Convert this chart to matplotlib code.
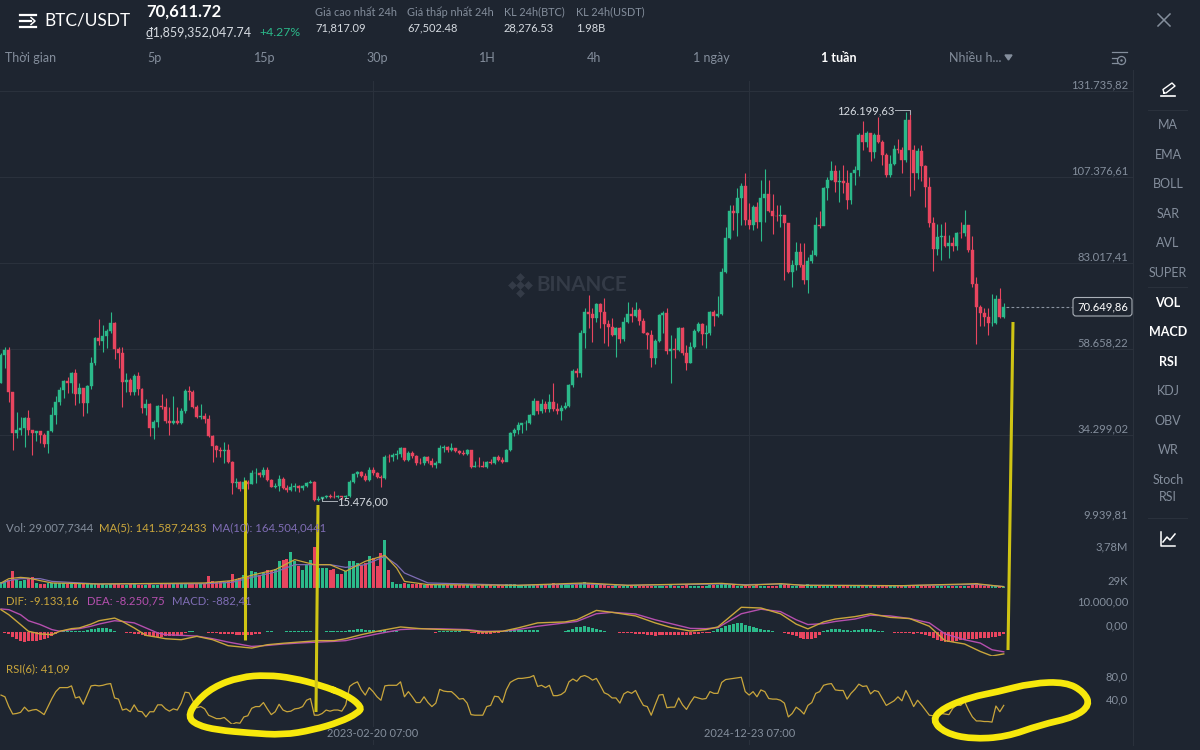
import numpy as np
import matplotlib
matplotlib.use('Agg')
import matplotlib.pyplot as plt
from matplotlib.path import Path
from matplotlib.patches import PathPatch, FancyBboxPatch

plt.rcParams['font.family'] = ['Lato', 'Noto Sans', 'DejaVu Sans']

# gia dong cua / cao / thap theo tuan (nghin USDT), doc tu hinh
first_open = 48.9
closes = [
    56.9,58.4,46.6,34.8,35.7,36.2,39.2,35.7,34.8,35.4,
    34.3,31.7,35.4,40.0,43.7,47.0,49.6,48.9,51.8,45.9,
    47.5,43.3,48.2,54.6,61.7,61.0,62.3,63.8,65.9,58.6,
    57.4,49.4,49.9,46.6,51.0,47.2,41.9,43.1,36.2,38.1,
    42.5,42.1,38.4,37.8,38.4,37.6,41.2,46.8,46.6,42.1,
    39.5,39.7,38.7,34.0,31.3,30.0,29.9,30.0,26.6,20.6,
    21.1,18.9,21.1,20.4,23.4,23.6,23.0,24.4,21.5,19.7,
    19.9,21.9,19.2,18.7,19.7,19.9,19.2,19.9,20.8,21.1,
    15.9,16.1,16.6,17.0,16.8,16.6,17.0,16.6,17.0,21.1,
    23.2,23.9,22.8,21.5,24.4,23.4,22.3,22.0,28.2,28.0,
    28.6,28.9,30.5,27.2,29.3,28.4,26.5,26.4,28.0,27.0,
    25.8,26.5,30.5,31.0,30.0,30.5,29.9,29.1,28.9,30.0,
    25.3,25.5,25.4,25.3,26.6,26.3,28.0,27.2,26.7,30.0,
    34.9,35.7,37.1,37.6,37.8,40.0,44.0,41.2,43.1,41.6,
    43.7,41.6,41.2,41.9,42.5,48.5,52.5,51.9,63.3,69.2,
    68.6,67.3,71.4,69.2,65.7,65.0,62.6,64.5,61.4,66.4,
    68.7,68.0,69.7,66.7,63.3,62.6,56.0,61.0,68.3,68.9,
    58.2,58.6,58.4,64.5,57.4,54.8,59.1,63.8,65.7,62.9,
    63.1,69.2,68.0,68.7,80.5,90.0,97.8,97.3,101.3,104.8,
    95.2,93.8,98.8,94.7,101.3,102.5,97.8,96.3,96.2,96.6,
    94.2,80.5,82.4,86.0,82.4,78.2,83.7,85.3,93.8,93.6,
    104.2,106.5,109.1,106.0,106.1,105.6,100.8,108.4,109.3,119.3,
    117.4,119.9,114.3,119.3,117.4,113.6,107.9,111.0,115.2,115.0,
    112.2,123.5,115.0,108.6,114.8,110.5,104.6,94.2,86.9,90.5,
    90.6,87.8,88.6,87.8,91.6,91.5,93.8,86.7,77.1,70.5,
    68.9,67.6,65.9,66.1,72.7,67.6,70.65]
highs = [
    57.4,59.3,59.3,46.6,40.9,39.5,39.5,41.4,35.7,35.4,
    35.4,34.8,35.5,42.3,45.2,48.0,49.9,50.6,52.2,52.9,
    48.9,47.5,48.5,56.5,62.1,67.1,65.5,64.2,69.0,66.4,
    59.3,59.3,51.8,50.3,51.6,52.2,47.5,44.4,43.4,38.5,
    42.8,45.8,44.7,42.3,45.3,42.3,41.8,47.2,48.2,47.0,
    42.8,43.1,40.6,40.0,34.3,31.5,31.0,32.4,31.7,26.8,
    22.0,21.4,22.5,21.5,24.4,24.9,23.9,25.1,25.3,21.7,
    20.6,23.0,22.5,20.1,20.6,20.6,20.1,20.1,21.1,21.5,
    21.3,17.0,16.8,17.3,17.6,18.5,17.2,17.0,17.2,21.5,
    23.6,24.2,24.2,23.4,25.3,25.3,23.9,23.0,28.6,28.9,
    29.3,30.0,31.0,30.5,29.9,29.9,28.6,27.7,28.4,28.4,
    27.7,26.8,31.5,31.5,31.3,31.9,30.5,30.0,30.0,30.2,
    29.9,26.8,28.2,26.8,26.8,27.5,28.2,28.6,28.2,30.2,
    35.2,36.2,38.1,37.8,38.5,40.2,44.7,44.0,44.4,44.0,
    45.9,48.9,43.4,42.8,43.7,48.7,52.9,53.2,64.0,70.2,
    73.9,70.2,71.8,71.6,73.0,66.9,67.3,65.0,65.0,67.8,
    72.1,70.6,72.1,70.2,67.3,63.6,64.0,61.4,68.7,69.5,
    70.2,62.6,61.9,65.0,64.8,59.8,60.7,64.2,66.4,65.9,
    65.5,69.5,69.7,73.7,81.5,93.3,99.4,99.4,104.2,105.6,
    108.4,100.1,99.4,100.4,106.5,109.5,106.5,102.5,99.4,99.4,
    96.6,94.4,83.9,89.0,88.8,88.6,84.8,86.7,96.1,97.8,
    104.6,107.3,112.0,110.8,109.3,110.8,109.3,108.6,110.5,119.7,
    123.3,120.5,119.9,119.7,124.4,117.7,114.1,113.6,116.4,118.0,
    115.8,125.9,126.2,116.4,115.5,116.4,110.8,107.5,96.1,94.1,
    94.1,94.7,90.9,90.5,91.9,94.7,98.0,93.8,90.7,79.1,
    71.1,70.2,70.2,74.2,73.9,75.8,71.6]
lows = [
    48.9,53.2,43.7,30.0,33.4,34.3,31.0,34.3,28.6,32.6,
    32.0,31.0,29.3,35.2,37.4,42.8,44.7,46.1,46.1,42.8,
    43.3,39.7,40.6,47.2,54.1,59.8,57.9,58.8,63.1,55.7,
    53.2,42.1,46.6,45.6,45.6,45.6,40.4,40.0,34.0,33.1,
    36.7,41.6,37.8,34.3,37.4,37.4,37.4,40.6,44.2,41.9,
    39.0,38.7,37.6,33.6,26.6,28.2,28.0,26.3,26.3,17.6,
    19.5,18.5,18.9,18.9,20.4,20.8,22.5,22.5,21.4,19.5,
    19.2,18.5,18.9,18.2,18.5,18.5,18.2,18.7,19.5,20.6,
    15.7,15.7,15.48,16.4,16.4,16.4,16.4,16.3,16.4,16.8,
    20.6,22.5,22.5,21.4,21.4,23.0,22.0,19.5,21.8,26.7,
    27.0,27.4,28.0,27.0,27.0,27.7,25.8,26.1,25.8,26.5,
    25.1,24.9,26.3,29.6,29.6,29.9,29.6,28.9,28.5,28.6,
    24.9,25.3,25.3,25.1,24.9,26.1,26.1,27.0,26.5,27.0,
    29.9,34.1,34.6,34.8,35.7,37.4,40.0,40.2,40.6,40.9,
    40.9,41.2,40.2,38.5,41.6,42.1,48.0,50.6,50.8,58.8,
    64.5,60.7,66.4,64.5,60.3,59.5,62.2,56.5,60.3,61.0,
    66.1,66.4,67.6,65.4,63.1,58.6,53.5,54.4,60.7,63.3,
    57.2,48.9,56.0,58.2,57.0,52.7,54.6,58.8,63.6,59.8,
    58.8,62.6,65.2,67.6,68.3,80.3,89.7,92.4,90.7,93.8,
    93.8,92.5,92.4,92.8,89.3,94.7,97.5,91.2,95.0,93.3,
    78.2,80.3,76.3,81.0,82.0,77.1,74.4,83.1,85.1,92.8,
    93.8,100.8,106.5,103.2,100.4,102.7,98.2,99.7,105.1,107.6,
    115.0,115.8,112.0,112.6,116.9,110.8,107.5,107.3,110.8,114.1,
    108.6,111.7,102.0,103.7,106.7,106.3,99.0,93.1,80.6,85.3,
    83.9,87.6,84.3,86.5,86.7,90.0,90.7,86.2,76.3,60.1,
    65.2,65.2,62.6,65.2,65.7,67.3,67.3]

# khoi luong (trieu BTC)
volumes = [
    .64,.71,.89,1.86,.89,.79,.89,1.07,1.18,.54,
    .46,.43,.54,.54,.54,.54,.54,.46,.43,.46,
    .43,.43,.43,.43,.40,.46,.40,.36,.40,.40,
    .40,.36,.36,.43,.40,.36,.36,.36,.40,.36,
    .36,.40,.43,.40,.46,.43,.43,.40,.43,.46,
    .43,.40,.43,1.32,.71,.64,.60,.64,.79,1.54,
    .89,1.07,1.43,1.25,1.86,1.71,1.43,1.61,1.89,1.79,
    2.07,2.93,3.04,3.11,3.82,2.86,2.32,1.96,2.57,3.04,
    4.43,2.14,2.14,2.14,1.96,2.07,1.54,1.50,1.79,2.93,
    2.93,2.68,2.43,2.68,3.39,3.21,2.32,3.75,5.18,1.96,
    .64,.43,.46,.54,.46,.43,.40,.40,.36,.32,
    .30,.36,.32,.28,.30,.36,.32,.30,.28,.30,
    .32,.28,.26,.30,.34,.30,.26,.30,.24,.40,
    .46,.38,.30,.34,.30,.32,.30,.30,.34,.30,
    .32,.54,.34,.28,.30,.28,.36,.40,.50,.60,
    .58,.42,.36,.30,.28,.26,.24,.28,.22,.26,
    .24,.22,.26,.24,.22,.26,.24,.22,.24,.26,
    .22,.42,.24,.22,.26,.28,.24,.22,.26,.24,
    .26,.28,.32,.34,.52,.46,.36,.30,.26,.24,
    .26,.24,.22,.28,.24,.26,.24,.22,.26,.50,
    .36,.30,.26,.24,.28,.30,.42,.26,.24,.22,
    .20,.22,.20,.22,.20,.24,.20,.22,.24,.22,
    .20,.22,.20,.24,.28,.24,.22,.26,.24,.22,
    .24,.28,.26,.24,.22,.26,.22,.24,.20,.20,
    .22,.24,.20,.22,.24,.22,.20,.26,.34,.56,
    .32,.26,.22,.20,.18,.20,.14]
vol_ma_idx = [0,2,5,7,10,13,25,52,59,64,70,75,80,84,88,93,98,101,103,109,132,149,160,184,190,199,205,230,249,256]
vol_ma5 = [.54,1.0,1.14,1.07,.79,.54,.43,.54,.79,1.36,1.96,3.04,2.5,2.5,1.79,2.86,3.5,2.14,.71,.36,.29,.54,.29,.5,.29,.46,.29,.25,.46,.14]
vol_ma10 = [.46,.79,1.0,1.0,1.0,.71,.43,.46,.61,1.14,1.71,2.5,2.5,2.5,2.21,2.5,3.39,2.5,1.61,.54,.29,.43,.29,.43,.36,.43,.29,.25,.39,.16]

# MACD (nghin)
macd_idx = [0,2,5,7,10,13,15,18,20,23,25,29,31,34,37,40,42,46,50,54,58,64,68,72,76,81,85,88,92,96,102,107,113,119,123,128,132,
            137,144,147,152,156,162,167,171,176,180,183,189,194,199,203,206,210,213,218,222,227,232,237,241,246,250,253,256]
dif = [9.3,7.2,3.1,.3,-.8,-1.1,.3,1.4,1.7,3.3,4.7,5.8,4.4,1.7,-1.4,-2.2,-2.8,-3.2,-1.8,-3.2,-5.7,-6.7,-5.3,-4.7,-4.2,-3.6,-3.6,-2.8,-1.1,.3,2.1,1.4,1.0,.7,0,.3,1.7,
       3.8,4.2,5.1,9.0,8.2,6.7,3.8,1.9,.4,1.0,2.1,10.3,10.0,7.6,3.3,1.3,4.2,5.4,6.4,7.6,6.1,5.6,2.4,-3.6,-5.0,-8.1,-10.0,-9.13]
dea = [9.6,9.3,7.2,4.7,3.1,1.0,.3,1.0,1.4,2.4,3.3,4.7,4.4,3.8,1.7,-.4,-1.1,-1.4,-1.7,-2.8,-4.2,-6.0,-5.6,-5.0,-4.6,-4.2,-3.9,-3.6,-2.2,-.8,1.0,1.4,1.3,1.0,.3,.3,1.0,
       2.4,3.8,4.4,7.6,8.2,7.5,5.1,3.5,1.5,1.4,1.8,7.6,9.5,8.5,5.1,3.1,3.5,4.4,5.4,7.0,6.7,5.6,3.8,-.8,-3.2,-4.6,-7.4,-8.25]
macd_hist = [
    -.2,-.4,-1.0,-2.0,-3.0,-3.8,-4.0,-3.9,-3.7,-3.6,
    -3.2,-2.8,-2.3,-1.5,-.7,-.1,.3,.5,.4,.3,
    .3,.3,1.0,1.2,1.4,1.5,1.5,1.5,1.4,.6,
    .2,-.2,-.4,-.6,-.7,-1.0,-1.3,-1.6,-1.8,-2.1,
    -2.2,-1.9,-1.8,-1.7,-1.7,-1.6,-1.3,-.6,.5,.5,
    .2,-.1,-.2,-.3,-.5,-.5,-.7,-.8,-.9,-1.0,
    -1.1,-1.1,-1.2,-1.2,-1.1,-1.0,-.7,.2,.3,.3,
    .2,.2,.2,.3,.4,.4,.5,.5,.6,.5,
    .1,.1,.2,.3,.3,.3,.4,.4,.5,.8,
    1.0,1.2,1.2,.9,.9,.8,.6,.5,.7,.6,
    .5,.4,.2,.1,.1,-.1,-.1,-.1,-.1,-.2,
    -.2,-.3,.4,.6,.6,.6,.5,.3,.1,-.1,
    -.4,-.6,-.7,-.7,-.7,-.8,-.6,-.5,-.2,.3,
    .9,1.2,1.0,.8,.8,.9,.9,.7,.2,.1,
    .1,.1,.1,.2,.5,.8,1.4,1.9,2.2,2.3,
    2.2,1.8,1.3,.9,.5,.2,-.1,-.2,-.3,-.3,
    -.4,-.6,-.7,-.8,-1.0,-1.2,-1.4,-1.5,-1.3,-1.2,
    -1.2,-1.3,-1.4,-1.4,-1.4,-1.3,-1.1,-.9,-.7,-.6,
    -.4,-.4,.5,1.2,1.8,2.3,2.8,3.2,3.6,3.8,
    2.8,2.4,2.0,1.5,1.2,1.0,.7,.5,.2,-.1,
    -.3,-.8,-1.2,-1.8,-2.4,-2.8,-3.0,-2.9,-2.4,-1.4,
    .3,.8,1.2,1.4,1.3,1.0,.8,.6,.8,1.0,
    1.3,1.4,1.4,1.0,.6,.3,.1,-.1,-.3,-.4,
    -.5,-.5,-.6,-.8,-.5,-.9,-1.2,-1.6,-2.4,-3.2,
    -3.9,-4.3,-4.3,-4.0,-3.7,-3.5,-3.3,-3.1,-2.9,-2.8,
    -2.7,-2.6,-2.4,-2.1,-1.9,-1.5,-.88]

# RSI(6)
rsi = [
    59,56,39,26,27,29,38,31,33,34,
    30,25,39,53,65,72,72,72,75,54,
    56,43,59,75,76,75,76,78,79,54,
    52,33,35,30,42,31,30,21,30,30,
    42,42,35,31,35,33,45,64,63,49,
    37,39,35,24,21,18,18,20,14,8,
    11,10,21,23,36,39,39,46,35,25,
    30,43,33,30,31,35,36,39,50,53,
    24,24,27,33,31,33,33,31,42,74,
    79,82,68,59,72,65,56,50,75,76,
    76,76,82,56,65,56,46,46,56,46,
    39,45,69,66,65,65,59,52,53,45,
    25,24,24,24,39,41,57,56,46,68,
    81,85,88,88,89,90,93,74,76,72,
    76,58,58,60,65,82,87,83,91,93,
    90,85,88,76,63,60,54,54,45,61,
    65,62,67,53,41,39,24,42,59,60,
    37,38,38,54,42,34,46,56,54,52,
    53,65,62,62,81,86,87,88,89,90,
    65,59,65,56,68,65,53,52,52,50,
    45,21,27,38,33,26,41,46,62,65,
    76,78,79,68,67,67,52,62,69,78,
    74,75,61,67,65,53,41,45,49,56,
    49,67,54,39,50,42,33,24,23,27,
    27,26,25,36,42,41,48,33,21,14,
    14,13,13,12,40,30,41.09]

price_ticks = [131.73582, 107.37661, 83.01741, 58.65822, 34.29902, 9.93981]
price_labels = ['131.735,82', '107.376,61', '83.017,41', '58.658,22', '34.299,02', '9.939,81']
date_idx = [95, 191]
date_labels = ['2023-02-20 07:00', '2024-12-23 07:00']
sidebar_names = ['MA', 'EMA', 'BOLL', 'SAR', 'AVL', 'SUPER', 'VOL', 'MACD', 'RSI', 'KDJ', 'OBV', 'WR', 'Stoch', 'RSI']
sidebar_y = [125, 155, 184, 214, 243, 273, 303, 332, 362, 391, 421, 450, 480, 497]
sidebar_on = ['VOL', 'MACD', 'RSI']

# net ve tay mau vang (toa do pixel cua anh)
ink_lines = [[(245, 480), (245, 640)], [(318, 505), (316, 712)], [(1013, 322), (1008, 650)]]
ring_left = [(347,695),(362,707),(358,713),(340,722),(313,730),(283,735),(250,733),(217,730),(197,725),(188,717),(195,703),(213,687),(240,677),(267,675),(293,678),(320,685)]
ring_right = [(932,720),(943,708),(971,697),(997,692),(1032,683),(1066,682),(1084,692),(1090,705),(1075,717),(1040,725),(1006,737),(971,739),(945,733)]

BG = '#1e2530'
GRID = '#2a313c'
GREEN = '#2bb98a'
RED = '#e8455f'
YEL = '#c9a63c'
MAG = '#b54fae'
PUR = '#7f6db5'
GRAY = '#848e9c'
TXT = '#d5dae0'
MARK = '#343b47'

opens = [first_open] + closes[:-1]
n = len(closes)
idx = np.arange(n)
up = np.array(closes) >= np.array(opens)
colors = np.where(up, GREEN, RED)

fig = plt.figure(figsize=(12, 7.5), dpi=100, facecolor=BG)
PANE_W = 1133

def pane(top, bottom, y0, y1, hgrid=False):
    ax = fig.add_axes([0, 1 - bottom / 750, PANE_W / 1200, (bottom - top) / 750], facecolor=BG)
    ax.set_xlim(-0.255, (PANE_W - 1) / 3.917)
    ax.set_ylim(y0, y1)
    ax.set_xticks(date_idx)
    ax.tick_params(length=0, labelbottom=False, labelleft=False)
    ax.grid(True, axis='both' if hgrid else 'x', color=GRID, lw=0.8)
    ax.set_axisbelow(True)
    for s in ['top', 'left', 'right']:
        ax.spines[s].set_visible(False)
    ax.spines['bottom'].set_color(GRID)
    return ax

def ylabels(ax, ticks, labels):
    ax.set_yticks(ticks)
    for t, lab in zip(ticks, labels):
        ax.annotate(lab, (1, t), xycoords=ax.get_yaxis_transform(), xytext=(-3.6, 4.3), textcoords='offset points',
                    ha='right', va='center', color=GRAY, fontsize=8.1, annotation_clip=False)

# gia
ax = pane(81, 521, 9.94, 9.94 + 440 * 0.2832, hgrid=True)
ylabels(ax, price_ticks, price_labels)
ax.vlines(idx, lows, highs, colors=colors, lw=0.8)
ax.bar(idx, np.array(closes) - np.array(opens), bottom=opens, width=0.76, color=colors, edgecolor=colors, lw=0.3)
ax.hlines(closes[-1], n - 0.5, 273.5, color='#8a93a0', lw=0.8, ls=(0, (2.5, 2)))
hi = highs.index(max(highs))
lo = lows.index(min(lows))
ax.plot([hi - 3.8, hi, hi], [max(highs), max(highs), max(highs) - 1], color='#aab0b8', lw=0.7)
ax.text(hi - 3.9, max(highs), '126.199,63', color=TXT, fontsize=8.1, ha='right', va='center')
ax.plot([lo, lo, lo + 3.8], [min(lows) + 1, min(lows), min(lows)], color='#aab0b8', lw=0.7)
ax.text(lo + 3.9, min(lows), '15.476,00', color=TXT, fontsize=8.1, ha='left', va='center')
# logo mo
mark_y = 9.94 + (521 - 285.5) * 0.2832
ax.text(580.5 / 3.917, mark_y, 'BINANCE', color=MARK, fontsize=14.8, fontweight='bold', ha='center', va='center', zorder=0.5)
ax.scatter([(519 - 8) / 3.917, 519 / 3.917, (519 + 8) / 3.917, 519 / 3.917, 519 / 3.917],
           [mark_y, mark_y, mark_y, mark_y + 8 * 0.2832, mark_y - 8 * 0.2832],
           marker='D', s=20, color=MARK, linewidths=0, zorder=0.5)

# khoi luong
ax_v = pane(521, 588, 0, 67 * 3.75 / 35)
ylabels(ax_v, [3.78, 0.029], ['3,78M', '29K'])
ax_v.bar(idx, volumes, width=0.76, color=colors)
ax_v.plot(vol_ma_idx, vol_ma10, color=PUR, lw=0.9)
ax_v.plot(vol_ma_idx, vol_ma5, color=YEL, lw=0.9)

# MACD
ax_m = pane(588, 656, -24 * 10 / 24, 44 * 10 / 24)
ylabels(ax_m, [10, 0], ['10.000,00', '0,00'])
ax_m.bar(idx, macd_hist, width=0.76, color=np.where(np.array(macd_hist) >= 0, GREEN, RED))
ax_m.plot(macd_idx, dea, color=MAG, lw=1)
ax_m.plot(macd_idx, dif, color=YEL, lw=1)

# RSI
ax_r = pane(656, 724, 40 - 18 * 40 / 23, 40 + 50 * 40 / 23)
ylabels(ax_r, [80, 40], ['80,0', '40,0'])
ax_r.plot(idx, rsi, color=YEL, lw=0.9)

# dai ngay
ax_d = pane(724, 745, 0, 1)
ax_d.spines['bottom'].set_visible(False)
ax_d.set_yticks([])
for i, lab in zip(date_idx, date_labels):
    ax_d.text(i, 0.55, lab, color=GRAY, fontsize=8, ha='center', va='center',
              bbox=dict(facecolor=BG, edgecolor='none', pad=1))

# lop phu: chu, bieu tuong, net ve
ov = fig.add_axes([0, 0, 1, 1], facecolor='none')
ov.set_xlim(0, 1200)
ov.set_ylim(750, 0)
ov.axis('off')

def txt(x, y, s, color=TXT, size=8, ha='left', **kw):
    ov.text(x, y, s, color=color, fontsize=size, ha=ha, va='center', **kw)

# dau trang
for y, x1 in [(15, 36), (21, 31), (27, 36)]:
    ov.plot([20, x1], [y, y], color='white', lw=1.6)
ov.plot([31, 35, 31], [17.5, 21, 24.5], color='white', lw=1.1)
txt(44, 21, 'BTC/USDT', 'white', 12.4)
txt(146, 12, '70,611.72', 'white', 12, fontweight='bold')
txt(146, 32, '₫1,859,352,047.74', TXT, 9)
txt(259, 32, '+4.27%', '#2bb98a', 8.8)
for x, h, v in [(315, 'Giá cao nhất 24h', '71,817.09'), (407, 'Giá thấp nhất 24h', '67,502.48'),
                (504, 'KL 24h(BTC)', '28,276.53'), (576, 'KL 24h(USDT)', '1.98B')]:
    txt(x, 12, h, GRAY, 7.8)
    txt(x, 28, v, TXT, 8)
ov.plot([1158, 1170], [14, 26], color=GRAY, lw=1.1)
ov.plot([1158, 1170], [26, 14], color=GRAY, lw=1.1)

# thanh khung thoi gian
for x, s in [(5, 'Thời gian'), (147, '5p'), (254, '15p'), (366, '30p'), (479, '1H'), (587, '4h'), (693, '1 ngày'), (949, 'Nhiều h...')]:
    txt(x, 58, s, GRAY, 9)
txt(821, 58, '1 tuần', 'white', 9, fontweight='bold')
ov.fill([1005, 1012, 1008.5], [55, 55, 60], color=GRAY)
ov.plot([1112, 1127], [52, 52], color=GRAY, lw=0.9)
ov.plot([1112, 1117], [58, 58], color=GRAY, lw=0.9)
ov.plot([1112, 1117], [63, 63], color=GRAY, lw=0.9)
ov.scatter([1121], [59.5], s=34, facecolor=BG, edgecolor=GRAY, lw=0.9)
ov.scatter([1121], [59.5], s=3, color=GRAY, lw=0)

# cot ben phai
ov.plot([PANE_W, PANE_W], [70, 745], color=GRID, lw=0.8)
for s, y in zip(sidebar_names, sidebar_y):
    on = s in sidebar_on and y < 400
    txt(1168, y, s, 'white' if on else GRAY, 9, ha='center', fontweight='bold' if on else 'normal')
for y in [110, 287, 518]:
    ov.plot([1148, 1187], [y, y], color=GRID, lw=0.8)
ov.plot([1161, 1175], [96, 96], color='white', lw=1.2)
ov.plot([1164, 1163, 1172, 1175, 1166, 1164], [93, 89.5, 83, 86, 93, 93], color='white', lw=1)
ov.plot([1161, 1161, 1175], [532, 546, 546], color='white', lw=1.1)
ov.plot([1163, 1167, 1170, 1175], [542, 537, 540, 534], color='white', lw=1.1)

# o gia hien tai
ov.add_patch(FancyBboxPatch((1073, 297.5), 59, 18.5, boxstyle='round,pad=0,rounding_size=3', facecolor=BG, edgecolor='#aab0b8', lw=0.8))
txt(1103, 307, '70.649,86', 'white', 8.1, ha='center')

# chu chi bao
for x, y, s, c in [(6, 528, 'Vol: 29.007,7344', GRAY), (99, 528, 'MA(5): 141.587,2433', YEL), (212, 528, 'MA(10): 164.504,0441', PUR),
                   (6, 601, 'DIF: -9.133,16', YEL), (87, 601, 'DEA: -8.250,75', MAG), (172, 601, 'MACD: -882,41', PUR),
                   (6, 669, 'RSI(6): 41,09', YEL)]:
    txt(x, y, s, c, 8.2)

# net ve vang
for seg in ink_lines:
    xs, ys = zip(*seg)
    ov.plot(xs, ys, color='#cfc414', lw=2.2, solid_capstyle='butt')

def ring(points):
    # duong cong kin qua trung diem cac canh
    p = np.array(points, dtype=float)
    mid = (p + np.roll(p, -1, axis=0)) / 2
    verts = [mid[-1]]
    codes = [Path.MOVETO]
    for a, b in zip(p, mid):
        verts += [a, b]
        codes += [Path.CURVE3, Path.CURVE3]
    return PathPatch(Path(verts, codes), fill=False, edgecolor='#f7e80c', lw=4.8, capstyle='round')

ov.add_patch(ring(ring_left))
ov.add_patch(ring(ring_right))

fig.savefig('out.png', dpi=100, facecolor=BG)
